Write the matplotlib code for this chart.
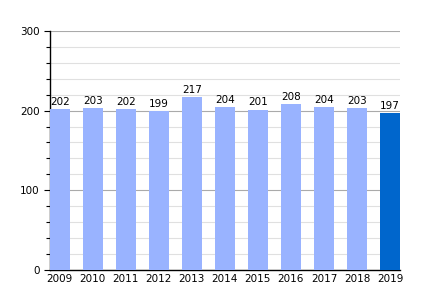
import matplotlib
matplotlib.use("Agg")
import matplotlib.pyplot as plt
from matplotlib.ticker import MultipleLocator

years = ["2009", "2010", "2011", "2012", "2013", "2014", "2015", "2016", "2017", "2018", "2019"]
values = [202, 203, 202, 199, 217, 204, 201, 208, 204, 203, 197]
LIGHT = "#99b3ff"
DARK = "#0066cc"

fig = plt.figure(figsize=(4.3, 3.0), dpi=100)
ax = fig.add_axes([0.116, 0.1, 0.814, 0.797])

colors = [LIGHT] * (len(values) - 1) + [DARK]
x = range(len(values))
bars = ax.bar(x, values, width=0.6, color=colors, zorder=3)
for xi, v in zip(x, values):
    ax.text(xi, v + 3, str(v), ha="center", va="bottom", fontsize=7.5, zorder=4)

ax.set_xlim(-0.3, len(values) - 0.7)
ax.set_ylim(0, 300)
ax.set_xticks(list(x))
ax.set_xticklabels(years, fontsize=7.5)
ax.yaxis.set_major_locator(MultipleLocator(100))
ax.yaxis.set_minor_locator(MultipleLocator(20))
ax.tick_params(axis="y", which="major", labelsize=7.5, length=4, width=0.8)
ax.tick_params(axis="y", which="minor", length=3, width=0.8)
ax.tick_params(axis="x", length=0, pad=3)

ax.grid(axis="y", which="major", color="#aaaaaa", linewidth=0.8, zorder=0)
ax.grid(axis="y", which="minor", color="#e0e0e0", linewidth=0.8, zorder=0)
for s in ["top", "right"]:
    ax.spines[s].set_visible(False)
ax.spines["left"].set_linewidth(1.0)
ax.spines["bottom"].set_linewidth(1.0)

fig.savefig("out.png", dpi=100)
